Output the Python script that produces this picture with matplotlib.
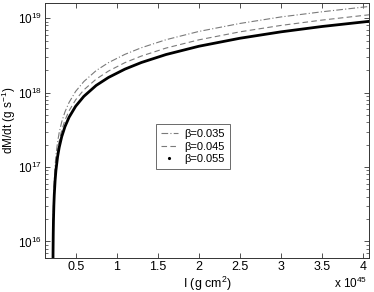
import numpy as np
import matplotlib
matplotlib.use("Agg")
import matplotlib.pyplot as plt
from matplotlib.lines import Line2D
from matplotlib.ticker import FixedLocator, FormatStrFormatter, LogLocator, NullFormatter

plt.rcParams['font.family'] = ['Liberation Sans', 'DejaVu Sans']
plt.rcParams['mathtext.fontset'] = 'custom'
plt.rcParams['mathtext.rm'] = 'Liberation Sans'
plt.rcParams['mathtext.it'] = 'Liberation Sans'

# moment of inertia, units of 1e45 g cm^2
I_vals = [0.2235, 0.225, 0.2275, 0.23, 0.235, 0.24, 0.25, 0.26, 0.28, 0.30,
          0.33, 0.37, 0.42, 0.5, 0.6, 0.75, 0.9, 1.1, 1.3, 1.6,
          2.0, 2.5, 3.0, 3.5, 4.1]

# dM/dt (g/s)
mdot_035 = [5.5e15, 1.12e16, 2.05e16, 2.99e16, 4.85e16, 6.7e16, 1.04e17, 1.42e17, 2.16e17, 2.91e17,
            4.03e17, 5.51e17, 7.38e17, 1.04e18, 1.41e18, 1.98e18, 2.53e18, 3.27e18, 4.01e18, 5.14e18,
            6.64e18, 8.5e18, 1.04e19, 1.22e19, 1.45e19]
mdot_045 = [4.3e15, 8.7e15, 1.59e16, 2.3e16, 3.75e16, 5.2e16, 8.05e16, 1.10e17, 1.67e17, 2.24e17,
            3.11e17, 4.26e17, 5.70e17, 8.0e17, 1.09e18, 1.52e18, 1.95e18, 2.53e18, 3.10e18, 3.97e18,
            5.12e18, 6.56e18, 8.0e18, 9.44e18, 1.12e19]
mdot_055 = [3.5e15, 7.1e15, 1.3e16, 1.89e16, 3.07e16, 4.25e16, 6.6e16, 9.0e16, 1.37e17, 1.84e17,
            2.55e17, 3.49e17, 4.67e17, 6.56e17, 8.92e17, 1.25e18, 1.60e18, 2.07e18, 2.54e18, 3.25e18,
            4.20e18, 5.38e18, 6.56e18, 7.74e18, 9.15e18]

labels = ['\u03b2=0.035', '\u03b2=0.045', '\u03b2=0.055']
x_ticks = [0.5, 1, 1.5, 2, 2.5, 3, 3.5, 4]

fig = plt.figure(figsize=(3.74, 2.92), dpi=100)
ax = fig.add_axes([0.1203, 0.1164, 0.8663, 0.8733])

gray = '#7a7a7a'
ax.plot(I_vals, mdot_035, color=gray, lw=0.8, ls=(0, (6, 2, 1, 2)))
ax.plot(I_vals, mdot_045, color=gray, lw=0.8, ls=(0, (5, 3)))
ax.plot(I_vals, mdot_055, color='black', lw=2.0)

ax.set_yscale('log')
ax.set_xlim(0.127, 4.07)
ax.set_ylim(6.0e15, 1.6e19)

ax.xaxis.set_major_locator(FixedLocator(x_ticks))
ax.xaxis.set_major_formatter(FormatStrFormatter('%g'))
ax.yaxis.set_major_locator(LogLocator(base=10, numticks=10))
ax.yaxis.set_minor_locator(LogLocator(base=10, subs=np.arange(2, 10), numticks=10))
ax.yaxis.set_minor_formatter(NullFormatter())

ax.tick_params(which='both', direction='in', top=True, right=True, labelsize=9, colors='#333333',
               labelcolor='black', pad=2.5)
ax.tick_params(axis='y', labelsize=8.5, pad=2)
ax.tick_params(which='major', length=3.5, width=0.6)
ax.tick_params(which='minor', length=2, width=0.5)
for s in ax.spines.values():
    s.set_linewidth(0.7)
    s.set_color('#333333')

ax.set_xlabel('I (g cm$^2$)', fontsize=9, labelpad=1)
ax.set_ylabel('dM/dt (g s$^{-1}$)', fontsize=8.5)
ax.yaxis.set_label_coords(-0.083, 0.54)

fig.text(0.893, 0.015, 'x 10$^{45}$', fontsize=8.5)

handles = [Line2D([], [], color=gray, lw=0.8, ls=(0, (6, 2, 1, 2))),
           Line2D([], [], color=gray, lw=0.8, ls=(0, (5, 3))),
           Line2D([], [], color='black', ls='none', marker='.', markersize=2.5)]
leg = ax.legend(handles, labels, loc='center left', bbox_to_anchor=(0.325, 0.437),
                fontsize=8, frameon=True, fancybox=False, handlelength=1.5,
                borderpad=0.45, labelspacing=0.2, handletextpad=0.6)
leg.get_frame().set_edgecolor('#444444')
leg.get_frame().set_linewidth(0.7)

fig.savefig('out.png', dpi=100)
